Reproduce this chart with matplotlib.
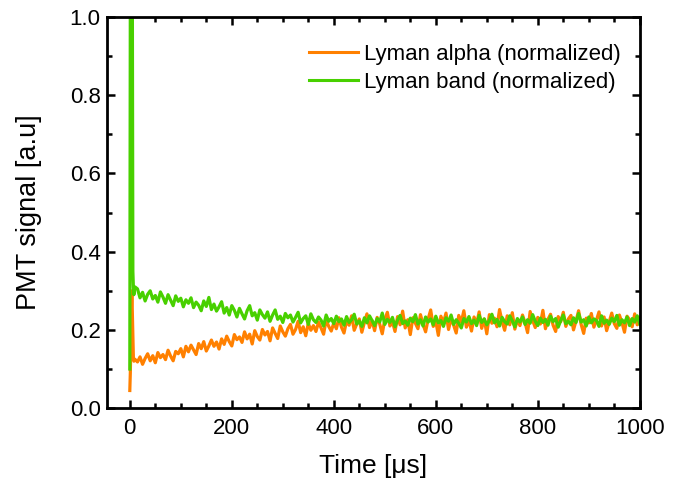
import matplotlib
matplotlib.use('Agg')
import matplotlib.pyplot as plt
from matplotlib.ticker import MultipleLocator, FormatStrFormatter

plt.rcParams['font.family'] = ['Liberation Sans', 'DejaVu Sans']

# time axis in microseconds: fine steps around the excitation pulse, then 5 us sampling
time_us = [0, 1, 2, 3, 4, 5, 6, 7, 8, 10] + list(range(15, 1001, 5))

# Lyman alpha (normalized)
lyman_alpha = [
    0.045, 0.09, 0.16, 0.25, 0.30, 0.24, 0.17, 0.13, 0.12, 0.125,
    0.118, 0.131, 0.112, 0.127, 0.139, 0.121, 0.134, 0.116, 0.142, 0.129,
    0.137, 0.124, 0.148, 0.133, 0.121, 0.145, 0.139, 0.152, 0.131, 0.158,
    0.144, 0.161, 0.149, 0.137, 0.165, 0.152, 0.170, 0.146, 0.159, 0.174,
    0.158, 0.169, 0.151, 0.177, 0.163, 0.184, 0.170, 0.159, 0.188, 0.175,
    0.182, 0.168, 0.195, 0.177, 0.189, 0.164, 0.198, 0.183, 0.174, 0.201,
    0.187, 0.196, 0.172, 0.205, 0.191, 0.178, 0.210, 0.195, 0.184, 0.203,
    0.214, 0.189, 0.201, 0.222, 0.193, 0.208, 0.185, 0.217, 0.199, 0.211,
    0.196, 0.220, 0.205, 0.189, 0.226, 0.209, 0.197, 0.218, 0.203, 0.231,
    0.207, 0.192, 0.223, 0.212, 0.236, 0.199, 0.215, 0.228, 0.194, 0.219,
    0.241, 0.206, 0.224, 0.198, 0.232, 0.215, 0.190, 0.227, 0.245, 0.210,
    0.221, 0.196, 0.234, 0.213, 0.248, 0.205, 0.226, 0.188, 0.231, 0.217,
    0.203, 0.239, 0.214, 0.195, 0.228, 0.251, 0.209, 0.222, 0.186, 0.235,
    0.218, 0.243, 0.201, 0.229, 0.212, 0.192, 0.237, 0.220, 0.249, 0.207,
    0.225, 0.197, 0.233, 0.215, 0.246, 0.204, 0.228, 0.190, 0.239, 0.217,
    0.230, 0.208, 0.252, 0.221, 0.199, 0.236, 0.213, 0.244, 0.202, 0.226,
    0.211, 0.238, 0.219, 0.193, 0.247, 0.224, 0.206, 0.232, 0.215, 0.250,
    0.203, 0.227, 0.240, 0.212, 0.196, 0.234, 0.221, 0.245, 0.209, 0.228,
    0.237, 0.200, 0.223, 0.249, 0.214, 0.191, 0.230, 0.218, 0.242, 0.207,
    0.225, 0.246, 0.210, 0.233, 0.198, 0.221, 0.243, 0.216, 0.204, 0.238,
    0.219, 0.194, 0.235, 0.226, 0.208, 0.241, 0.213, 0.230,
]

# Lyman band (normalized)
lyman_band = [
    0.10, 1.05, 1.05, 1.05, 1.05, 1.05, 0.35, 0.31, 0.29, 0.31,
    0.305, 0.282, 0.296, 0.274, 0.291, 0.300, 0.279, 0.288, 0.271, 0.297,
    0.284, 0.268, 0.290, 0.276, 0.262, 0.287, 0.273, 0.281, 0.259, 0.277,
    0.268, 0.282, 0.257, 0.271, 0.263, 0.249, 0.274, 0.260, 0.283, 0.252,
    0.266, 0.248, 0.259, 0.272, 0.243, 0.257, 0.238, 0.262, 0.250, 0.233,
    0.255, 0.241, 0.228, 0.249, 0.262, 0.236, 0.244, 0.225, 0.251, 0.239,
    0.230, 0.246, 0.222, 0.238, 0.251, 0.227, 0.235, 0.219, 0.242, 0.231,
    0.238, 0.220, 0.232, 0.245, 0.218, 0.229, 0.236, 0.214, 0.241, 0.226,
    0.219, 0.233, 0.225, 0.210, 0.238, 0.222, 0.229, 0.216, 0.235, 0.221,
    0.228, 0.212, 0.234, 0.219, 0.226, 0.240, 0.215, 0.223, 0.209, 0.231,
    0.218, 0.236, 0.224, 0.211, 0.229, 0.220, 0.243, 0.214, 0.227, 0.219,
    0.232, 0.208, 0.225, 0.237, 0.216, 0.223, 0.212, 0.230, 0.221, 0.239,
    0.215, 0.226, 0.210, 0.233, 0.220, 0.228, 0.213, 0.235, 0.218, 0.224,
    0.209, 0.231, 0.222, 0.238, 0.214, 0.226, 0.217, 0.205, 0.229, 0.220,
    0.234, 0.216, 0.225, 0.211, 0.237, 0.219, 0.228, 0.213, 0.224, 0.240,
    0.218, 0.227, 0.210, 0.232, 0.221, 0.215, 0.236, 0.223, 0.208, 0.229,
    0.220, 0.233, 0.214, 0.226, 0.217, 0.239, 0.222, 0.211, 0.230, 0.219,
    0.227, 0.212, 0.235, 0.221, 0.229, 0.207, 0.224, 0.238, 0.216, 0.222,
    0.213, 0.231, 0.219, 0.242, 0.220, 0.226, 0.210, 0.233, 0.218, 0.228,
    0.224, 0.209, 0.236, 0.217, 0.225, 0.214, 0.230, 0.221, 0.237, 0.212,
    0.226, 0.218, 0.233, 0.211, 0.229, 0.220, 0.236, 0.215,
]

fig = plt.figure(figsize=(6.85, 4.87), dpi=100)
ax = fig.add_axes([0.156, 0.162, 0.778, 0.803])

ax.plot(time_us, lyman_alpha, color='#ff8000', lw=2.3, label='Lyman alpha (normalized)')
ax.plot(time_us, lyman_band, color='#48d000', lw=2.3, label='Lyman band (normalized)')

ax.set_xlim(-45, 1000)
ax.set_ylim(0, 1.0)
ax.xaxis.set_major_locator(MultipleLocator(200))
ax.xaxis.set_minor_locator(MultipleLocator(50))
ax.yaxis.set_major_locator(MultipleLocator(0.2))
ax.yaxis.set_minor_locator(MultipleLocator(0.1))
ax.yaxis.set_major_formatter(FormatStrFormatter('%.1f'))

ax.tick_params(which='both', direction='in', top=True, right=True, width=1.8, labelsize=16)
ax.tick_params(which='major', length=6)
ax.tick_params(which='minor', length=3.5)
ax.tick_params(axis='x', which='major', pad=7)
ax.tick_params(axis='y', which='major', pad=4.5)
for s in ax.spines.values():
    s.set_linewidth(2.0)

ax.set_xlabel('Time [\u03bcs]', fontsize=19, labelpad=11)
ax.set_ylabel('PMT signal [a.u]', fontsize=19.5, labelpad=20)

leg = ax.legend(loc='upper right', bbox_to_anchor=(0.99, 0.965), frameon=False, fontsize=16,
                handlelength=2.2, handletextpad=0.3, labelspacing=0.3, borderaxespad=0.2)
for line in leg.get_lines():
    line.set_linewidth(2.2)

fig.savefig('out.png', dpi=100)
